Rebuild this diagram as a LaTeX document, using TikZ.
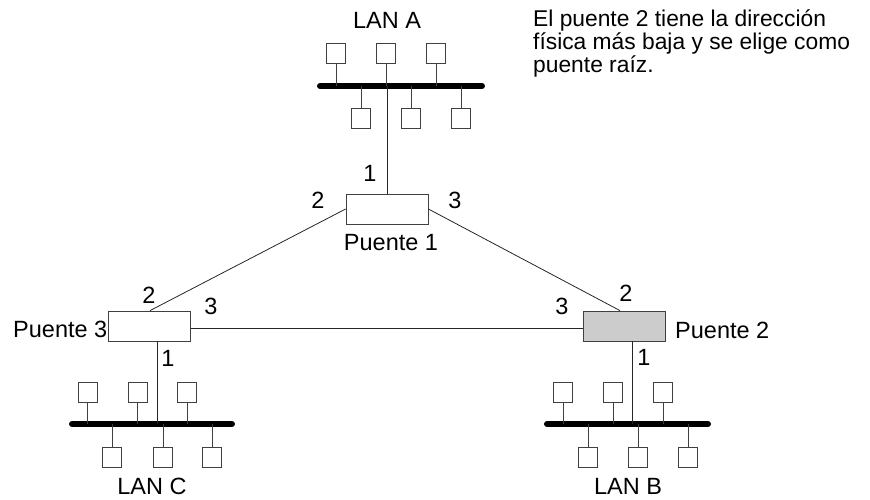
\documentclass[tikz,border=0pt]{standalone}
\usepackage{fontspec}
\setmainfont{Liberation Sans}
\begin{document}
\begin{tikzpicture}[x=1pt,y=-1pt,
  lbl/.style={font=\fontsize{23.5}{26}\selectfont, inner sep=0pt},
  bridge/.style={draw=black!75, line width=0.8pt, minimum width=82pt, minimum height=30pt, inner sep=0pt},
  station/.style={draw=black!75, line width=0.8pt, minimum width=19pt, minimum height=20pt, inner sep=0pt},
  stem/.style={draw=black!75, line width=0.8pt},
  link/.style={draw=black!85, line width=0.8pt},
  bus/.style={line width=6pt, line cap=round, black}]
\useasboundingbox (0,0) rectangle (870,499);

% Bridges
\node[bridge] (B1) at (387,209) {};
\node[bridge] (B3) at (149.5,326) {};
\node[bridge, fill=black!20] (B2) at (624.5,326) {};

% LAN A
\coordinate (AL) at (320,86); \coordinate (AR) at (482,86);
\draw[bus] (AL) -- (AR);
\foreach \n/\x in {1/336,2/386,3/436} {
  \node[station] (At\n) at (\x,53) {};
  \draw[stem] (At\n.south) -- (At\n.south |- AL);
}
\foreach \n/\x in {1/361,2/411,3/461} {
  \node[station] (Ab\n) at (\x,118) {};
  \draw[stem] (Ab\n.north) -- (Ab\n.north |- AL);
}
\node[lbl] (LA) at (387,20) {LAN A};

% LAN C
\coordinate (CL) at (72,424); \coordinate (CR) at (232,424);
\draw[bus] (CL) -- (CR);
\foreach \n/\x in {1/87.5,2/137.5,3/187} {
  \node[station] (Ct\n) at (\x,392) {};
  \draw[stem] (Ct\n.south) -- (Ct\n.south |- CL);
}
\foreach \n/\x in {1/112,2/163,3/212} {
  \node[station] (Cb\n) at (\x,457) {};
  \draw[stem] (Cb\n.north) -- (Cb\n.north |- CL);
}
\node[lbl] (LC) at (152,486.5) {LAN C};

% LAN B
\coordinate (BL) at (547,424); \coordinate (BR) at (708,424);
\draw[bus] (BL) -- (BR);
\foreach \n/\x in {1/563,2/613,3/663} {
  \node[station] (Bt\n) at (\x,392) {};
  \draw[stem] (Bt\n.south) -- (Bt\n.south |- BL);
}
\foreach \n/\x in {1/588,2/638,3/688} {
  \node[station] (Bb\n) at (\x,457) {};
  \draw[stem] (Bb\n.north) -- (Bb\n.north |- BL);
}
\node[lbl] (LB) at (628,486.5) {LAN B};

% Connections
\coordinate (A1) at (B1.north |- AL);
\draw[link] (A1) -- (B1.north);
\draw[link] (B1.west) -- ([xshift=0.5pt]B3.north);
\draw[link] (B1.east) -- ([xshift=-4.5pt]B2.north);
\draw[link] ([yshift=-2pt]B3.east) -- ([yshift=-2pt]B2.west);
\coordinate (C1) at ([xshift=7.5pt]B3.south |- CL);
\draw[link] ([xshift=7.5pt]B3.south) -- (C1);
\coordinate (D1) at ([xshift=7.5pt]B2.south |- BL);
\draw[link] ([xshift=7.5pt]B2.south) -- (D1);

% Port labels
\node[lbl] (p11) at (370,173) {1};
\node[lbl] (p12) at (318,200) {2};
\node[lbl] (p13) at (455,200) {3};
\node[lbl] (n1) at (391,243) {Puente 1};

\node[lbl] (p32) at (149,295) {2};
\node[lbl] (p33) at (211,306) {3};
\node[lbl] (p31) at (168,358) {1};
\node[lbl, anchor=east] (n3) at (107.5,329) {Puente 3};

\node[lbl] (p22) at (626,293) {2};
\node[lbl] (p23) at (562,306) {3};
\node[lbl] (p21) at (644,357) {1};
\node[lbl, anchor=west] (n2) at (675,330) {Puente 2};

% Note
\node[inner sep=0pt, anchor=north west, align=left, font=\fontsize{22.8}{20}\selectfont] (note) at (533,10)
  {El puente 2 tiene la dirección\\física más baja y se elige como\\puente raíz.};
\end{tikzpicture}
\end{document}
